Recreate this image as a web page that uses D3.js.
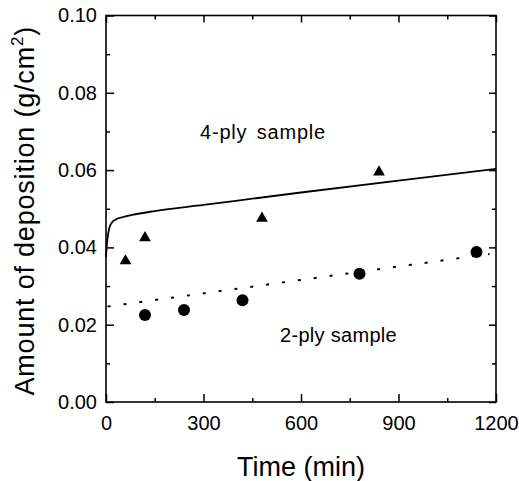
<!DOCTYPE html>
<html>
<head>
<meta charset="utf-8">
<script src="https://cdn.jsdelivr.net/npm/d3@7"></script>
<style>
  body { margin: 0; background: white; }
  svg { font-family: "Liberation Sans", Arial, sans-serif; }
</style>
</head>
<body>
<div id="chart"></div>
<script>
// 4-ply sample, measured points (triangles)
const ply4Time = [60, 120, 480, 840]
const ply4Dep = [0.0365, 0.0425, 0.0475, 0.0595]
// 2-ply sample, measured points (circles)
const ply2Time = [120, 240, 420, 780, 1140]
const ply2Dep = [0.0225, 0.0238, 0.0263, 0.0332, 0.0388]
// model curve, 4-ply (solid)
const fit4Time = [0, 3, 7, 12, 18, 30, 50, 80, 150, 300, 600, 900, 1200]
const fit4Dep = [0.0375, 0.041, 0.0437, 0.0455, 0.0464, 0.0472, 0.0478, 0.0484, 0.0494, 0.0510, 0.0542, 0.0573, 0.0603]
// model line, 2-ply (dotted)
const fit2Time = [5, 1180]
const fit2Dep = [0.0247, 0.0383]

const xTicks = [0, 300, 600, 900, 1200]
const xMinor = [150, 450, 750, 1050]
const yTicks = [0, 0.02, 0.04, 0.06, 0.08, 0.10]
const yMinor = [0.01, 0.03, 0.05, 0.07, 0.09]

const width = 519, height = 481
const pLeft = 106, pRight = 496, pTop = 15.5, pBottom = 402

const svg = d3.select('#chart').append('svg')
  .attr('width', width)
  .attr('height', height)
  .style('background', 'white')

const x = d3.scaleLinear().domain([0, 1200]).range([pLeft, pRight])
const y = d3.scaleLinear().domain([0, 0.10]).range([pBottom, pTop])

function styleAxis(g) {
  g.select('.domain').remove()
  g.selectAll('line').attr('stroke', '#000').attr('stroke-width', 1.5)
  g.selectAll('text').attr('fill', '#000').style('font-size', '20px')
}

// bottom
svg.append('g').attr('transform', `translate(0,${pBottom})`)
  .call(d3.axisBottom(x).tickValues(xTicks).tickSize(-8).tickPadding(14).tickFormat(d3.format('d')))
  .call(styleAxis)
svg.append('g').attr('transform', `translate(0,${pBottom})`)
  .call(d3.axisBottom(x).tickValues(xMinor).tickSize(-4).tickFormat(''))
  .call(styleAxis)
// top
svg.append('g').attr('transform', `translate(0,${pTop})`)
  .call(d3.axisTop(x).tickValues(xTicks).tickSize(-7).tickFormat(''))
  .call(styleAxis)
svg.append('g').attr('transform', `translate(0,${pTop})`)
  .call(d3.axisTop(x).tickValues(xMinor).tickSize(-4).tickFormat(''))
  .call(styleAxis)
// left
svg.append('g').attr('transform', `translate(${pLeft},0)`)
  .call(d3.axisLeft(y).tickValues(yTicks).tickSize(-8).tickPadding(9).tickFormat(d3.format('.2f')))
  .call(styleAxis)
svg.append('g').attr('transform', `translate(${pLeft},0)`)
  .call(d3.axisLeft(y).tickValues(yMinor).tickSize(-4).tickFormat(''))
  .call(styleAxis)
// right
svg.append('g').attr('transform', `translate(${pRight},0)`)
  .call(d3.axisRight(y).tickValues(yTicks).tickSize(-7).tickFormat(''))
  .call(styleAxis)
svg.append('g').attr('transform', `translate(${pRight},0)`)
  .call(d3.axisRight(y).tickValues(yMinor).tickSize(-4).tickFormat(''))
  .call(styleAxis)

// frame
svg.append('rect')
  .attr('x', pLeft).attr('y', pTop)
  .attr('width', pRight - pLeft).attr('height', pBottom - pTop)
  .attr('fill', 'none').attr('stroke', '#000').attr('stroke-width', 1.6)

// curves
const line = d3.line().x(d => x(d[0])).y(d => y(d[1]))

svg.append('path')
  .datum(d3.zip(fit4Time, fit4Dep))
  .attr('d', line.curve(d3.curveMonotoneX))
  .attr('fill', 'none').attr('stroke', '#000').attr('stroke-width', 1.8)

svg.append('path')
  .datum(d3.zip(fit2Time, fit2Dep))
  .attr('d', d3.line().x(d => x(d[0])).y(d => y(d[1])))
  .attr('fill', 'none').attr('stroke', '#000').attr('stroke-width', 2)
  .attr('stroke-dasharray', '3,13')

// markers
svg.selectAll('.tri')
  .data(d3.zip(ply4Time, ply4Dep))
  .enter()
  .append('path')
  .attr('class', 'tri')
  .attr('d', d3.symbol().type(d3.symbolTriangle).size(60))
  .attr('transform', d => `translate(${x(d[0])},${y(d[1])})`)
  .attr('fill', '#000')

svg.selectAll('.dot')
  .data(d3.zip(ply2Time, ply2Dep))
  .enter()
  .append('circle')
  .attr('class', 'dot')
  .attr('cx', d => x(d[0]))
  .attr('cy', d => y(d[1]))
  .attr('r', 6)
  .attr('fill', '#000')

// annotations
svg.append('text')
  .attr('x', 200).attr('y', 139)
  .style('font-size', '20px')
  .style('letter-spacing', '0.8px')
  .style('word-spacing', '3px')
  .text('4-ply sample')
svg.append('text')
  .attr('x', 280).attr('y', 342)
  .style('font-size', '20px')
  .style('letter-spacing', '0.3px')
  .text('2-ply sample')

// axis titles
svg.append('text')
  .attr('x', (pLeft + pRight) / 2).attr('y', 476)
  .attr('text-anchor', 'middle')
  .style('font-size', '27px')
  .text('Time (min)')

const yt = svg.append('text')
  .attr('transform', `translate(34,${(pTop + pBottom) / 2 + 2}) rotate(-90)`)
  .attr('text-anchor', 'middle')
  .style('font-size', '27px')
  .style('letter-spacing', '0.8px')
yt.append('tspan').text('Amount of deposition (g/cm')
yt.append('tspan').attr('dy', -11).style('font-size', '17px').text('2')
yt.append('tspan').attr('dy', 11).text(')')
</script>
</body>
</html>
